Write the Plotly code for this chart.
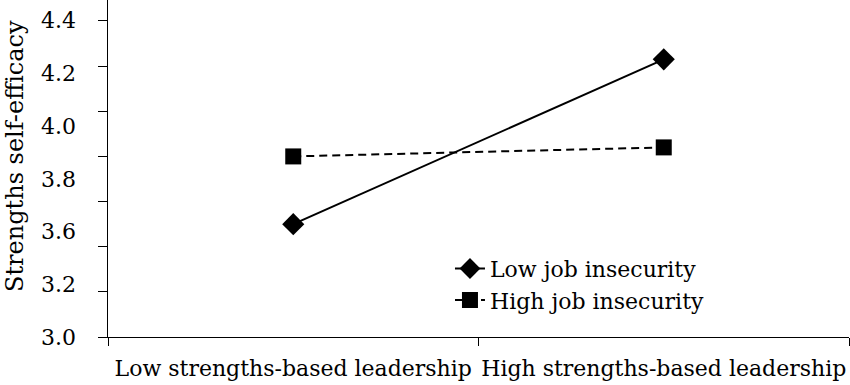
import plotly.graph_objects as go

categories = ["Low strengths-based leadership", "High strengths-based leadership"]
series_names = ["Low job insecurity", "High job insecurity"]
low_job_insecurity = [3.50, 4.23]
high_job_insecurity = [3.80, 3.84]
y_tick_values = [3.0, 3.2, 3.4, 3.6, 3.8, 4.0, 4.2, 4.4]
y_tick_labels = ["3.0", "3.2", "3.6", "3.8", "4.0", "4.2", "4.4"]
y_title = "Strengths self-efficacy"

FONT = "DejaVu Serif"
FS = 22

fig = go.Figure()
fig.add_trace(go.Scatter(
    x=categories, y=low_job_insecurity, name=series_names[0], mode="lines+markers",
    line=dict(color="black", width=2),
    marker=dict(symbol="diamond", size=17, color="black"),
))
fig.add_trace(go.Scatter(
    x=categories, y=high_job_insecurity, name=series_names[1], mode="lines+markers",
    line=dict(color="black", width=2, dash="8px,5px"),
    marker=dict(symbol="square", size=16, color="black"),
))
# invisible helper trace so the label axis is rendered
fig.add_trace(go.Scatter(
    x=categories, y=[None, None], yaxis="y2", showlegend=False,
    hoverinfo="skip", mode="markers",
))

fig.update_layout(
    width=850, height=385,
    margin=dict(l=108, r=1, t=0, b=48, autoexpand=False),
    paper_bgcolor="white", plot_bgcolor="white",
    font=dict(family=FONT, size=FS, color="black"),
    showlegend=True,
    legend=dict(
        x=0.4615, y=0.265, xanchor="left", yanchor="top",
        bgcolor="rgba(0,0,0,0)", font=dict(size=FS, family=FONT),
        tracegroupgap=0,
    ),
    xaxis=dict(
        type="category", range=[-0.5, 1.5], tickson="boundaries",
        ticks="outside", ticklen=8, tickcolor="black", tickwidth=1,
        showline=True, linecolor="black", linewidth=1, automargin=False,
        ticklabelstandoff=12, tickangle=0,
        showgrid=False, zeroline=False, tickfont=dict(size=FS, family=FONT),
    ),
    yaxis=dict(
        range=[3.0, 4.493], tickvals=y_tick_values, showticklabels=False,
        ticks="outside", ticklen=9, tickcolor="black", tickwidth=1,
        showline=True, linecolor="black", linewidth=1, automargin=False,
        showgrid=False, zeroline=False,
    ),
    yaxis2=dict(
        overlaying="y", side="left", range=[0, 6.393], automargin=False,
        tickvals=list(range(len(y_tick_labels))), ticktext=y_tick_labels,
        showline=False, showgrid=False, zeroline=False, ticks="",
        ticklabelstandoff=31, tickfont=dict(size=FS, family=FONT),
    ),
    annotations=[dict(
        text=y_title, textangle=-90, showarrow=False,
        xref="paper", yref="paper", x=-0.1255, y=0.537,
        xanchor="center", yanchor="middle",
        font=dict(size=24, family=FONT, color="black"),
    )],
)

fig.write_html("out.html", config={"displayModeBar": False},
               post_script="document.body.style.margin='0px';")
